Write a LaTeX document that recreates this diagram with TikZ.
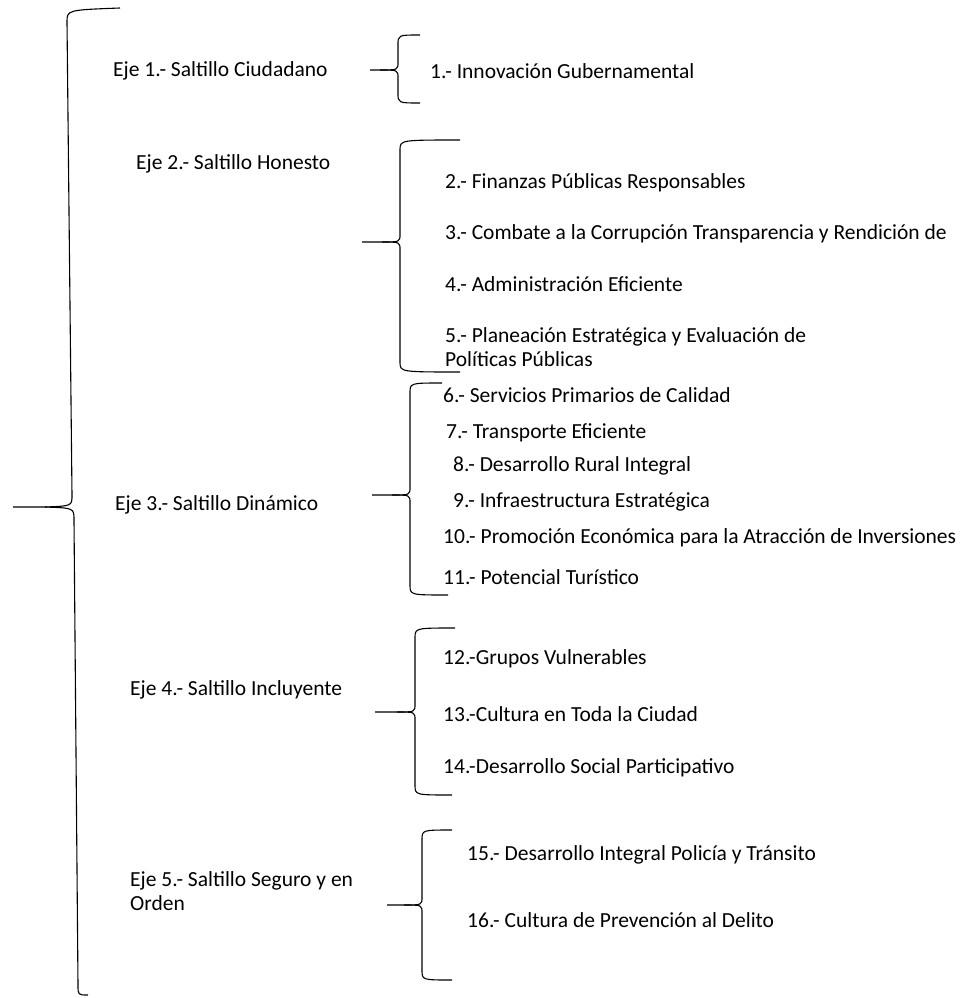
\documentclass[tikz,border=0pt]{standalone}
\usepackage{fontspec}
\setmainfont{Carlito}
\tikzset{
  lbl/.style={anchor=west, inner sep=0pt, font=\fontsize{21.5}{24}\selectfont, align=left},
  bracestroke/.style={line width=1.1pt, black}
}
% \bracedraw{xr top}{ytop}{xv}{ytip}{xl}{ybot}{xr bottom}
\newcommand{\bracedraw}[7]{%
  \draw[bracestroke] (#1,#2) .. controls (#3,#2) .. (#3,#2+10) -- (#3,#4-8)
     .. controls (#3,#4) .. (#3-18,#4) -- (#5,#4);
  \draw[bracestroke] (#3-18,#4) .. controls (#3,#4) .. (#3,#4+8) -- (#3,#6-10)
     .. controls (#3,#6) .. (#7,#6);
}
\begin{document}
\begin{tikzpicture}[x=1pt,y=-1pt]
\useasboundingbox (0,0) rectangle (965,998);
% big brace
\draw[bracestroke] (120,8) .. controls (67,10) .. (67,22) -- (72,495)
   .. controls (72,506) .. (45,507) -- (13,507);
\draw[bracestroke] (45,507) .. controls (74,508) .. (74,520) -- (78,985)
   .. controls (78,995) .. (88,995);
% axes
\node[lbl] (e1) at (113,71) {Eje 1.- Saltillo Ciudadano};
\node[lbl] (e2) at (136,164) {Eje 2.- Saltillo Honesto};
\node[lbl] (e3) at (115,505) {Eje 3.- Saltillo Dinámico};
\node[lbl] (e4) at (130,690) {Eje 4.- Saltillo Incluyente};
\node[lbl] (e5) at (130,891) {Eje 5.- Saltillo Seguro y en\\Orden};
% sub braces
\bracedraw{420}{35}{398}{70}{370}{103}{420}
\bracedraw{460}{140}{400}{242}{362}{372}{460}
\bracedraw{442}{383}{410}{495}{372}{595}{448}
\bracedraw{455}{628}{415}{712}{375}{795}{452}
\bracedraw{452}{830}{422}{905}{387}{980}{452}
% items
\node[lbl] (i1) at (430,71) {1.- Innovación Gubernamental};
\node[lbl] (i2) at (445,183) {2.- Finanzas Públicas Responsables};
\node[lbl] (i3) at (445,234) {3.- Combate a la Corrupción Transparencia y Rendición de};
\node[lbl] (i4) at (445,284) {4.- Administración Eficiente};
\node[lbl] (i5) at (445,347) {5.- Planeación Estratégica y Evaluación de\\Políticas Públicas};
\node[lbl] (i6) at (443,395) {6.- Servicios Primarios de Calidad};
\node[lbl] (i7) at (446,433) {7.- Transporte Eficiente};
\node[lbl] (i8) at (453,466) {8.- Desarrollo Rural Integral};
\node[lbl] (i9) at (453,502) {9.- Infraestructura Estratégica};
\node[lbl] (i10) at (443,538) {10.- Promoción Económica para la Atracción de Inversiones};
\node[lbl] (i11) at (443,577) {11.- Potencial Turístico};
\node[lbl] (i12) at (443,659) {12.-Grupos Vulnerables};
\node[lbl] (i13) at (443,714) {13.-Cultura en Toda la Ciudad};
\node[lbl] (i14) at (443,768) {14.-Desarrollo Social Participativo};
\node[lbl] (i15) at (467,855) {15.- Desarrollo Integral Policía y Tránsito};
\node[lbl] (i16) at (467,920) {16.- Cultura de Prevención al Delito};
\end{tikzpicture}
\end{document}
